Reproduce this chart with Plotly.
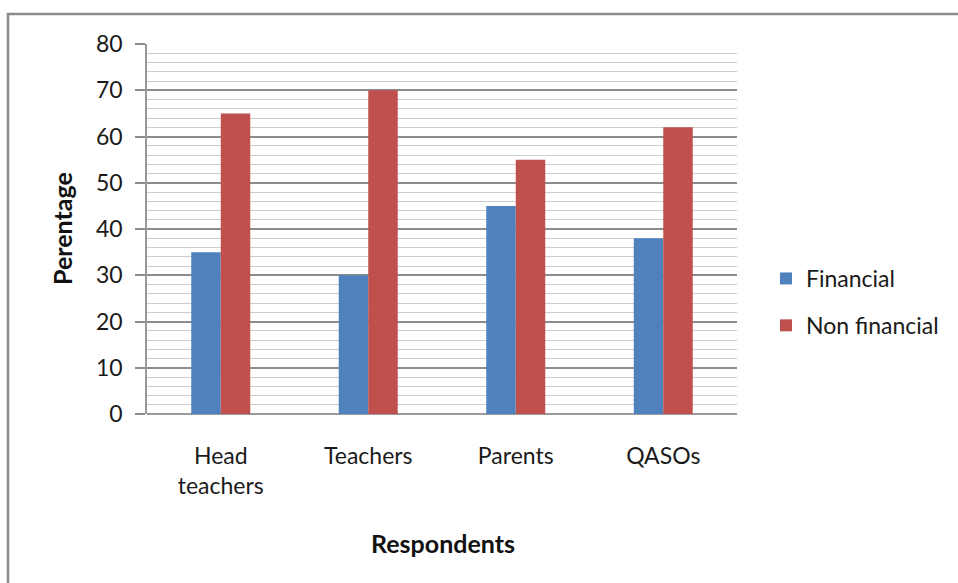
import plotly.graph_objects as go

# Survey responses by respondent group (percentages)
respondents = ["Head<br>teachers", "Teachers", "Parents", "QASOs"]
financial = [35, 30, 45, 38]
non_financial = [65, 70, 55, 62]

FONT = "Lato, 'Open Sans', sans-serif"
TXT = "#1a1a1a"

fig = go.Figure()
fig.add_trace(go.Bar(
    name="Financial", x=respondents, y=financial,
    marker=dict(color="#4f81bd", line=dict(width=0)),
    legendgroup="a",
))
fig.add_trace(go.Bar(
    name="Non financial", x=respondents, y=non_financial,
    marker=dict(color="#c0504d", line=dict(width=0)),
    legendgroup="b",
))

L, R, T, B = 147, 221, 44, 169
pw, ph = 958 - L - R, 583 - T - B

fig.update_layout(
    width=958, height=583,
    margin=dict(l=L, r=R, t=T, b=B, autoexpand=False),
    paper_bgcolor="white", plot_bgcolor="white",
    barmode="group", bargap=0.6, bargroupgap=0,
    font=dict(family=FONT, size=23, color=TXT),
    showlegend=True,
    legend=dict(
        x=(766 - L) / pw, y=(414 - 302) / ph, xanchor="left", yanchor="middle",
        font=dict(family=FONT, size=23, color=TXT),
        tracegroupgap=14, traceorder="grouped",
        itemwidth=30,
    ),
    xaxis=dict(
        showgrid=False, showline=False, ticks="",
        tickfont=dict(family=FONT, size=23, color=TXT),
        ticklabelstandoff=26,
    ),
    yaxis=dict(
        range=[0, 80], dtick=10, tick0=0,
        showline=True, linecolor="#9a9a9a", linewidth=1.5,
        ticks="outside", ticklen=10, tickcolor="#8c8c8c", tickwidth=1.5,
        showgrid=True, gridcolor="#8c8c8c", gridwidth=1.5,
        zeroline=True, zerolinecolor="#9a9a9a", zerolinewidth=2,
        minor=dict(dtick=2, showgrid=True, gridcolor="#cdcdcd", gridwidth=1.3),
        tickfont=dict(family=FONT, size=23, color=TXT),
        ticklabelstandoff=8,
    ),
    annotations=[
        dict(text="<b>Perentage</b>", x=(62 - L) / pw, y=(414 - 229) / ph,
             xref="paper", yref="paper", xanchor="center", yanchor="middle",
             showarrow=False, textangle=-90,
             font=dict(family=FONT, size=25, color="#111")),
        dict(text="<b>Respondents</b>", x=(443 - L) / pw, y=(414 - 543) / ph,
             xref="paper", yref="paper", xanchor="center", yanchor="middle",
             showarrow=False, font=dict(family=FONT, size=25, color="#111")),
    ],
)

# outer chart frame
fig.add_shape(type="rect", xref="paper", yref="paper",
              x0=(8 - L) / pw, x1=(990 - L) / pw,
              y0=(414 - 600) / ph, y1=(414 - 14) / ph,
              line=dict(color="#8a8a8a", width=2.5), layer="below")

fig.write_html("out.html")
